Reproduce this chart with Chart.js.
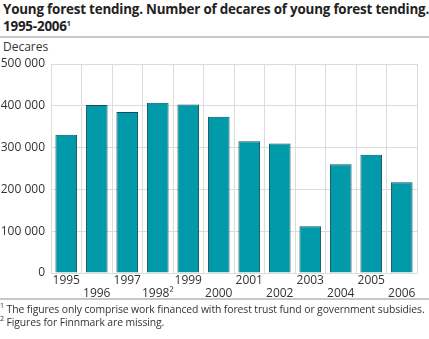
<!DOCTYPE html>
<html>
<head>
<meta charset="UTF-8">
<title>Young forest tending</title>
<style>
  body { margin: 0; width: 429px; height: 339px; position: relative; background: #fff; font-family: "Open Sans", sans-serif; color: #222; overflow: hidden; }
  #title { position: absolute; left: 3px; top: 1px; font-size: 13.4px; font-weight: bold; line-height: 17px; letter-spacing: -0.2px; white-space: nowrap; }
  #title sup, .fn sup { font-size: 7px; vertical-align: 5px; line-height: 0; }
  .rule { position: absolute; left: 0; width: 429px; height: 0; border-top: 2px solid #c8c8c8; }
  #unit { position: absolute; left: 3px; top: 38px; font-size: 12px; color: #333; }
  .fn { position: absolute; left: 0px; font-size: 10.4px; letter-spacing: -0.1px; color: #333; white-space: nowrap; }
  #chart-container { position: absolute; left: 0; top: 0; width: 429px; height: 339px; }
</style>
<script src="https://cdn.jsdelivr.net/npm/chart.js@4"></script>
</head>
<body>
<div id="title">Young forest tending. Number of decares of young forest tending.<br>1995-2006<sup>1</sup></div>
<div class="rule" style="top:36px"></div>
<div id="unit">Decares</div>
<div id="chart-container"><canvas id="mycanvas" width="429" height="339"></canvas></div>
<div class="rule" style="top:298px"></div>
<div class="fn" style="top:302px"><sup>1</sup> The figures only comprise work financed with forest trust fund or government subsidies.</div>
<div class="fn" style="top:315px"><sup>2</sup> Figures for Finnmark are missing.</div>

<script>
var years = ['1995', '1996', '1997', '1998\u00b2', '1999', '2000', '2001', '2002', '2003', '2004', '2005', '2006'];
var decares = [331000, 402000, 385000, 407000, 403000, 374000, 315000, 310000, 112000, 260000, 283000, 217000];
var yTicks = [0, 100000, 200000, 300000, 400000, 500000];

// every other year label drops to a second row
var labels = years.map(function (y, i) { return i % 2 === 0 ? [y, ''] : ['', y]; });

function fmt(v) {
  return v === 0 ? '0' : String(v).replace(/\B(?=(\d{3})+(?!\d))/g, ' ');
}

new Chart(document.getElementById('mycanvas'), {
  type: 'bar',
  data: {
    labels: labels,
    datasets: [{
      label: 'Decares',
      data: decares,
      backgroundColor: '#009aaa',
      borderColor: '#0d4f58',
      borderWidth: 1,
      barPercentage: 0.71,
      categoryPercentage: 1
    }]
  },
  options: {
    responsive: false,
    animation: false,
    devicePixelRatio: 1,
    layout: { padding: { top: 64, right: 12, bottom: 38, left: 0 } },
    plugins: { legend: { display: false }, tooltip: { enabled: false } },
    scales: {
      x: {
        grid: { color: '#dcdcdc', drawTicks: false, offset: true },
        border: { color: '#dcdcdc' },
        ticks: { color: '#333', font: { family: 'Open Sans', size: 12, lineHeight: 1.08 }, maxRotation: 0, autoSkip: false, padding: 1 },
        afterFit: function (s) { s.height = 28; }
      },
      y: {
        min: 0, max: 500000,
        afterBuildTicks: function (s) { s.ticks = yTicks.map(function (v) { return { value: v }; }); },
        grid: { color: '#dcdcdc', drawTicks: false },
        border: { display: false },
        ticks: { color: '#333', font: { family: 'Open Sans', size: 12 }, padding: 6, callback: fmt },
        afterFit: function (s) { s.width = 51; }
      }
    }
  }
});
</script>
</body>
</html>
